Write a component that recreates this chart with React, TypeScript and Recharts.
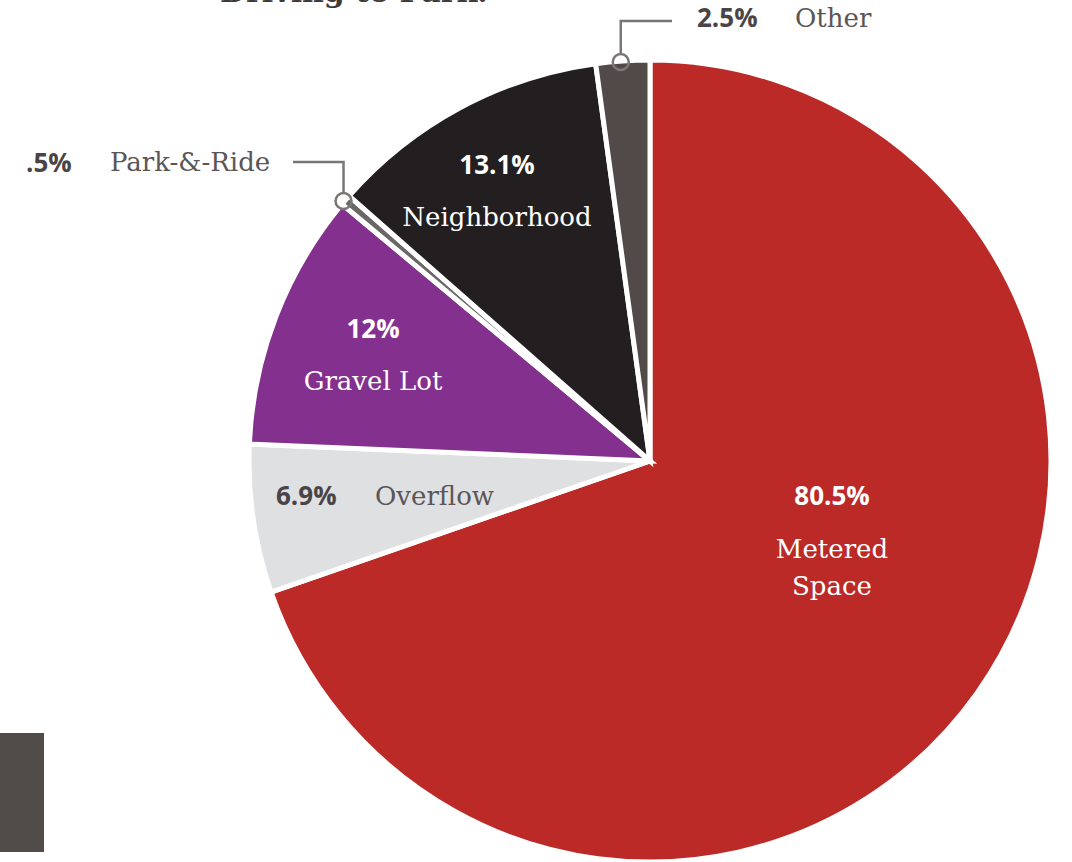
import React from 'react';
import { PieChart, Pie, Cell } from 'recharts';

// clockwise from 12 o'clock
const NAMES = ['Metered Space', 'Overflow', 'Gravel Lot', 'Park-&-Ride', 'Neighborhood', 'Other'];
const VALUES = [80.5, 6.9, 12, 0.5, 13.1, 2.5];
const PCT_LABELS = ['80.5%', '6.9%', '12%', '.5%', '13.1%', '2.5%'];
const COLORS = ['#bb2a27', '#dfe0e2', '#83308f', '#6b6767', '#231f20', '#514a49'];

const data = NAMES.map((name, i) => ({ name, value: VALUES[i] }));

const SERIF = '"DejaVu Serif", serif';
const SANS = '"Open Sans", Lato, sans-serif';

// label placement relative to pie centre
type Layout = {
  kind: 'inside' | 'outside';
  px: number; py: number;      // percent text
  nx: number; ny: number;      // name text
  lines?: string[];
  elbowY?: number; endX?: number; // leader line
};
const LAYOUT: Layout[] = [
  { kind: 'inside', px: 182, py: 44, nx: 182, ny: 97, lines: ['Metered', 'Space'] },
  { kind: 'outside', px: -374, py: 44, nx: -275, ny: 44 },
  { kind: 'inside', px: -277, py: -123, nx: -277, ny: -71 },
  { kind: 'outside', px: -624, py: -289, nx: -540, ny: -290, elbowY: -299, endX: -357 },
  { kind: 'inside', px: -153, py: -287, nx: -153, ny: -235 },
  { kind: 'outside', px: 47, py: -434, nx: 145, ny: -434, elbowY: -440, endX: 22 },
];

const RADIAN = Math.PI / 180;

const renderLabel = (props: any) => {
  const { cx, cy, midAngle, outerRadius, index } = props;
  const l = LAYOUT[index];
  const inside = l.kind === 'inside';
  const pctFill = inside ? '#ffffff' : '#4a4446';
  const nameFill = inside ? '#ffffff' : '#5b5556';
  const anchor = inside ? 'middle' : 'start';
  const lines = l.lines || [NAMES[index]];
  let leader = null;
  if (l.elbowY !== undefined && l.endX !== undefined) {
    const r = outerRadius;
    const ex = cx + r * Math.cos(-midAngle * RADIAN) - 2;
    const ey = cy + r * Math.sin(-midAngle * RADIAN) + 1;
    leader = (
      <g>
        <circle cx={ex} cy={ey} r={8} fill="none" stroke="#7a7676" strokeWidth={2.5} />
        <polyline
          points={`${ex},${ey - 8} ${ex},${cy + l.elbowY} ${cx + l.endX},${cy + l.elbowY}`}
          fill="none"
          stroke="#7a7676"
          strokeWidth={2.5}
        />
      </g>
    );
  }
  return (
    <g>
      {leader}
      <text x={cx + l.px} y={cy + l.py} textAnchor={anchor} fill={pctFill}
        style={{ fontFamily: SANS, fontWeight: 700, fontSize: 26 }}>
        {PCT_LABELS[index]}
      </text>
      {lines.map((s, k) => (
        <text key={k} x={cx + l.nx} y={cy + l.ny + k * 37} textAnchor={anchor} fill={nameFill}
          style={{ fontFamily: SERIF, fontWeight: 400, fontSize: 26 }}>
          {s}
        </text>
      ))}
    </g>
  );
};

export default function App() {
  return (
    <div style={{ position: 'absolute', left: 0, top: 0, width: 1072, height: 862, background: '#fff', overflow: 'hidden' }}>
      <PieChart width={1072} height={862} margin={{ top: 0, right: 0, bottom: 0, left: 0 }}>
        <rect x={0} y={733} width={44} height={119} fill="#524c49" />
        <text x={220} y={2} fill="#3e3a39" style={{ fontFamily: SERIF, fontWeight: 700, fontSize: 30 }}>
          Driving to Park.
        </text>
        <Pie
          data={data}
          dataKey="value"
          nameKey="name"
          cx={650}
          cy={461}
          outerRadius={401}
          startAngle={90}
          endAngle={-270}
          stroke="#ffffff"
          strokeWidth={5}
          label={renderLabel}
          labelLine={false}
          isAnimationActive={false}
        >
          {data.map((d, i) => (
            <Cell key={d.name} fill={COLORS[i]} />
          ))}
        </Pie>
      </PieChart>
    </div>
  );
}
